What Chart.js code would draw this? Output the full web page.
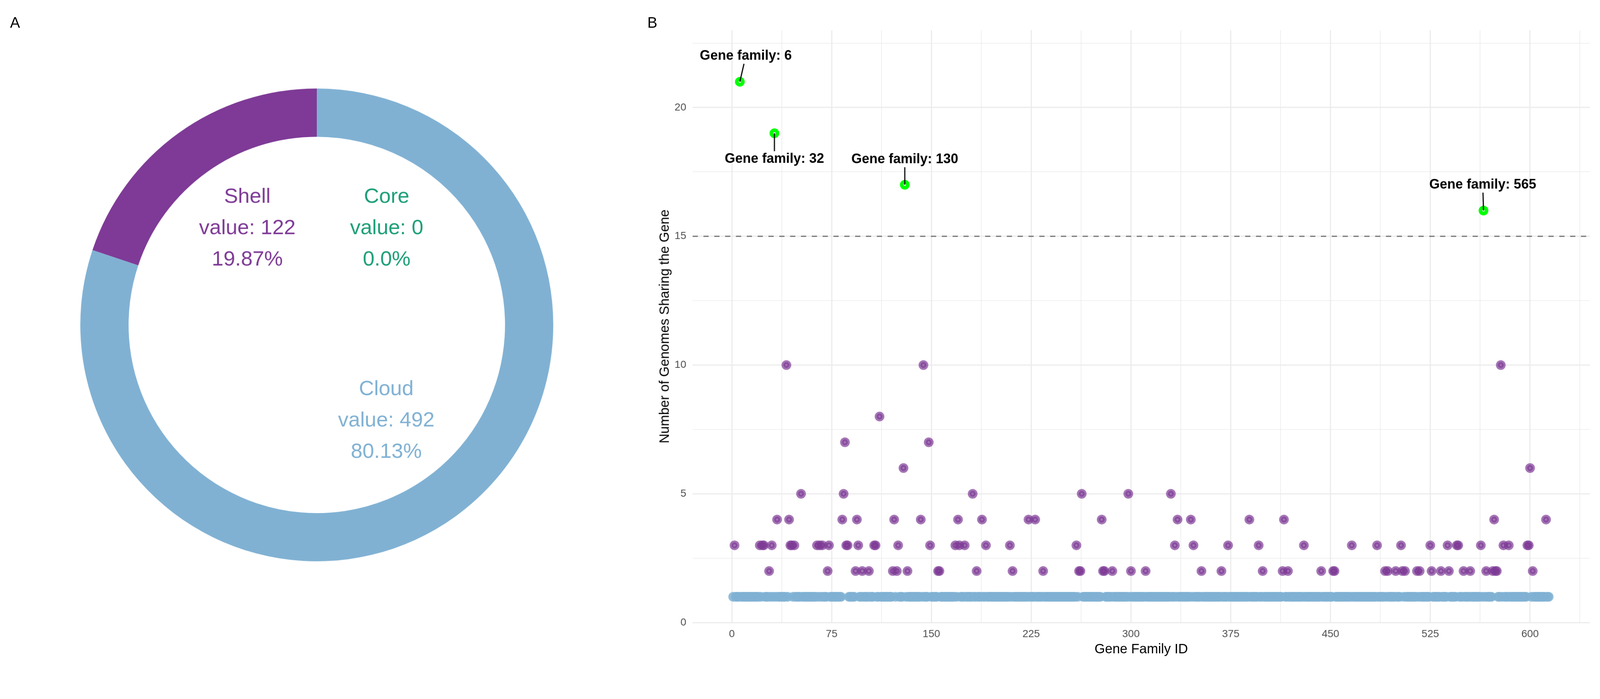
<!DOCTYPE html>
<html lang="en">
<head>
<meta charset="UTF-8">
<title>Gene family sharing: pie and scatter</title>
<style>
  html, body { margin: 0; padding: 0; background: #fff; overflow: hidden; }
  #page { position: absolute; left: 0; top: 0; width: 4283px; height: 1790px;
          transform-origin: 0 0; font-family: "Liberation Sans", Arial, sans-serif; }
  .tag { position: absolute; font-size: 40px; line-height: 1; color: #000; }
  #donutBox { position: absolute; left: 215px; top: 237px; width: 1266px; height: 1266px; }
  #scatterBox { position: absolute; left: 1720px; top: 0; width: 2563px; height: 1790px; }
  .axis-title { position: absolute; font-size: 36px; line-height: 1; color: #000; white-space: nowrap; }
  #xTitle { left: 3055px; top: 1737px; transform: translate(-50%, -50%); }
  #yTitle { left: 1778px; top: 874px; transform: translate(-50%, -50%) rotate(-90deg); }
</style>
</head>
<body>
<div id="page">
  <div class="tag" style="left:27px; top:40px;">A</div>
  <div class="tag" style="left:1733px; top:40px;">B</div>
  <div id="donutBox"><canvas id="donut"></canvas></div>
  <div id="scatterBox"><canvas id="scatter"></canvas></div>
  <div id="xTitle" class="axis-title">Gene Family ID</div>
  <div id="yTitle" class="axis-title">Number of Genomes Sharing the Gene</div>
</div>

<script src="https://cdn.jsdelivr.net/npm/chart.js"></script>
<script>
// ---- panel A: pan-genome categories ----
const categories = ['Cloud', 'Core', 'Shell'];
const categoryCounts = [492, 0, 122];
const categoryColors = ['#80B1D3', '#1B9E77', '#7E3A96'];

// ---- panel B: gene families shared by 2+ genomes (Shell) ----
const shellIds = [
  // 2 genomes
  28, 72, 93, 98, 103, 121, 124, 132, 155, 156, 184, 211, 234, 261, 262, 279, 280, 286, 300, 311,
  353, 368, 399, 414, 418, 443, 452, 453, 491, 493, 499, 504, 506, 515, 517, 526, 533, 539, 550, 555,
  567, 572, 574, 575, 602,
  // 3 genomes
  2, 21, 23, 24, 30, 44, 45, 47, 64, 66, 68, 73, 86, 87, 95, 107, 108, 125, 149, 168,
  171, 175, 191, 209, 259, 333, 347, 373, 396, 430, 466, 485, 503, 525, 538, 545, 546, 563, 580, 584,
  598, 599,
  // 4 genomes
  34, 43, 83, 94, 122, 142, 170, 188, 223, 228, 278, 335, 345, 389, 415, 573, 612,
  // 5 genomes
  52, 84, 181, 263, 298, 330,
  // 6, 7, 8, 10 genomes
  129, 600, 85, 148, 111, 41, 144, 578,
  // above the threshold
  565, 130, 32, 6
];
const shellGenomes = [
  2, 2, 2, 2, 2, 2, 2, 2, 2, 2, 2, 2, 2, 2, 2, 2, 2, 2, 2, 2,
  2, 2, 2, 2, 2, 2, 2, 2, 2, 2, 2, 2, 2, 2, 2, 2, 2, 2, 2, 2,
  2, 2, 2, 2, 2,
  3, 3, 3, 3, 3, 3, 3, 3, 3, 3, 3, 3, 3, 3, 3, 3, 3, 3, 3, 3,
  3, 3, 3, 3, 3, 3, 3, 3, 3, 3, 3, 3, 3, 3, 3, 3, 3, 3, 3, 3,
  3, 3,
  4, 4, 4, 4, 4, 4, 4, 4, 4, 4, 4, 4, 4, 4, 4, 4, 4,
  5, 5, 5, 5, 5, 5,
  6, 6, 7, 7, 8, 10, 10, 10,
  16, 17, 19, 21
];
// every other family (IDs 1..614) is found in a single genome (Cloud)
const totalFamilies = 614;
const cloudGenomes = 1;
const threshold = 15;

const xTicks = [0, 75, 150, 225, 300, 375, 450, 525, 600];
const yTicks = [0, 5, 10, 15, 20];

// the viewport can be narrower than 4283px, so scale the whole layout to fit
const page = document.getElementById('page');
const fit = Math.min(window.innerWidth / 4283, window.innerHeight / 1790);
page.style.transform = 'scale(' + fit + ')';

const FONT = '"Liberation Sans", Arial, sans-serif';
Chart.defaults.font.family = FONT;

function pctLabel(v, total) {
  const r = Math.round(v / total * 10000) / 100;
  return (Number.isInteger(r) ? r.toFixed(1) : String(r)) + '%';
}

// ---------------- doughnut ----------------
const donutTotal = categoryCounts.reduce((a, b) => a + b, 0);
// text block offsets from the ring centre (Cloud, Core, Shell)
const donutTextOffsets = [[186, 257], [187, -258], [-186, -258]];

const donutLabels = {
  id: 'donutLabels',
  afterDraw(chart) {
    const arc = chart.getDatasetMeta(0).data[0];
    const ctx = chart.ctx;
    ctx.save();
    ctx.font = '56px ' + FONT;
    ctx.textAlign = 'center';
    ctx.textBaseline = 'middle';
    categories.forEach((name, i) => {
      const cx = arc.x + donutTextOffsets[i][0];
      const cy = arc.y + donutTextOffsets[i][1];
      const lines = [name, 'value: ' + categoryCounts[i], pctLabel(categoryCounts[i], donutTotal)];
      ctx.fillStyle = categoryColors[i];
      lines.forEach((t, k) => ctx.fillText(t, cx, cy + (k - 1) * 84));
    });
    ctx.restore();
  }
};

new Chart(document.getElementById('donut'), {
  type: 'doughnut',
  data: {
    labels: categories,
    datasets: [{
      data: categoryCounts,
      backgroundColor: categoryColors,
      borderWidth: 0,
      hoverOffset: 0
    }]
  },
  options: {
    responsive: true,
    maintainAspectRatio: false,
    animation: false,
    events: [],
    cutout: '79.6%',
    plugins: { legend: { display: false }, tooltip: { enabled: false } }
  },
  plugins: [donutLabels]
});

// ---------------- scatter ----------------
const shellSet = new Set(shellIds);
const cloudPoints = [];
for (let id = 1; id <= totalFamilies; id++) {
  if (!shellSet.has(id)) cloudPoints.push({ x: id, y: cloudGenomes });
}
const shellPoints = [];
const hiPoints = [];
shellIds.forEach((id, i) => {
  const p = { x: id, y: shellGenomes[i] };
  (shellGenomes[i] > threshold ? hiPoints : shellPoints).push(p);
});

// grid: majors every 75 / 5, minors half way
const xGrid = [];
for (let i = 0; i < xTicks.length; i++) {
  xGrid.push(xTicks[i], xTicks[i] + 37.5);
}
const yGrid = [];
for (let i = 0; i < yTicks.length; i++) {
  yGrid.push(yTicks[i], yTicks[i] + 2.5);
}

const threshLine = {
  id: 'threshLine',
  beforeDatasetsDraw(chart) {
    const { ctx, chartArea, scales } = chart;
    const y = scales.y.getPixelForValue(threshold);
    ctx.save();
    ctx.strokeStyle = '#6a6a6a';
    ctx.lineWidth = 3;
    ctx.setLineDash([14, 15]);
    ctx.beginPath();
    ctx.moveTo(chartArea.left, y);
    ctx.lineTo(chartArea.right, y);
    ctx.stroke();
    ctx.restore();
  }
};

// label placement (pixel offset from the point), like ggrepel put them
const labelOffsets = { 6: [16, -69], 32: [0, 69], 130: [0, -68], 565: [-2, -69] };

const familyLabels = {
  id: 'familyLabels',
  afterDatasetsDraw(chart) {
    const ctx = chart.ctx;
    const meta = chart.getDatasetMeta(0);
    ctx.save();
    ctx.font = 'bold 36px ' + FONT;
    ctx.textAlign = 'center';
    ctx.textBaseline = 'middle';
    hiPoints.forEach((p, i) => {
      const el = meta.data[i];
      const off = labelOffsets[p.x] || [0, -69];
      const lx = el.x + off[0], ly = el.y + off[1];
      const t = (Math.abs(off[1]) - 21) / Math.abs(off[1]);
      ctx.strokeStyle = '#000';
      ctx.lineWidth = 3;
      ctx.beginPath();
      ctx.moveTo(el.x, el.y);
      ctx.lineTo(el.x + off[0] * t, el.y + off[1] * t);
      ctx.stroke();
      ctx.fillStyle = '#000';
      ctx.fillText('Gene family: ' + p.x, lx, ly);
    });
    ctx.restore();
  }
};

const gridWidth = (step) => (c) => (c.tick && c.tick.value % step === 0 ? 3 : 1.6);

new Chart(document.getElementById('scatter'), {
  type: 'scatter',
  data: {
    datasets: [
      { label: 'Highlighted', data: hiPoints, order: 1,
        pointRadius: 8, borderWidth: 10, backgroundColor: '#ffffff', borderColor: '#00FF00' },
      { label: 'Shell', data: shellPoints, order: 2,
        pointRadius: 8, borderWidth: 10,
        backgroundColor: 'rgba(126,58,150,0.7)', borderColor: 'rgba(126,58,150,0.7)' },
      { label: 'Cloud', data: cloudPoints, order: 3,
        pointRadius: 13, borderWidth: 0, backgroundColor: 'rgba(128,177,211,0.85)' }
    ]
  },
  options: {
    responsive: true,
    maintainAspectRatio: false,
    animation: false,
    events: [],
    layout: { padding: { top: 81, right: 27, left: 0, bottom: 0 } },
    plugins: { legend: { display: false }, tooltip: { enabled: false } },
    scales: {
      x: {
        type: 'linear',
        min: -29.5,
        max: 645,
        afterBuildTicks: (s) => { s.ticks = xGrid.map(v => ({ value: v })); },
        afterFit: (s) => { s.height = 123; },
        border: { display: false },
        grid: { color: '#EBEBEB', lineWidth: gridWidth(75), drawTicks: false },
        ticks: {
          autoSkip: false, maxRotation: 0, padding: 14,
          color: '#4D4D4D', font: { size: 28 },
          callback: (v) => (xTicks.includes(v) ? String(v) : '')
        }
      },
      y: {
        type: 'linear',
        min: 0,
        max: 23,
        afterBuildTicks: (s) => { s.ticks = yGrid.map(v => ({ value: v })); },
        afterFit: (s) => { s.width = 134; },
        border: { display: false },
        grid: { color: '#EBEBEB', lineWidth: gridWidth(5), drawTicks: false },
        ticks: {
          autoSkip: false, padding: 17,
          color: '#4D4D4D', font: { size: 28 },
          callback: (v) => (yTicks.includes(v) ? String(v) : '')
        }
      }
    }
  },
  plugins: [threshLine, familyLabels]
});
</script>
</body>
</html>
